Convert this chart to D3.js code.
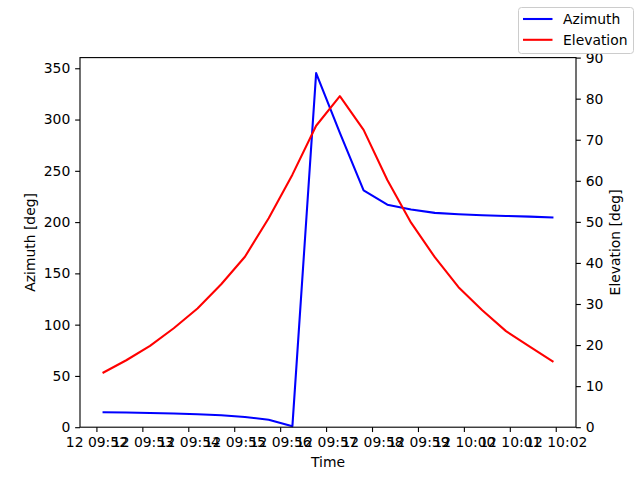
<!DOCTYPE html>
<html>
<head>
<meta charset="utf-8">
<script src="https://cdn.jsdelivr.net/npm/d3@7"></script>
<style>
  body { margin: 0; background: #fff; }
  svg { display: block; }
  text { font-family: "DejaVu Sans", sans-serif; }
</style>
</head>
<body>
<div id="chart"></div>
<script>
// Pass samples (day 12, every ~31 s)
const times = [
  "09:52:08", "09:52:39", "09:53:10", "09:53:41", "09:54:12",
  "09:54:43", "09:55:14", "09:55:45", "09:56:16", "09:56:47",
  "09:57:18", "09:57:49", "09:58:20", "09:58:51", "09:59:22",
  "09:59:53", "10:00:24", "10:00:55", "10:01:26", "10:01:57"
];
const azimuth = [
  14.6, 14.3, 13.9, 13.4, 12.7, 11.7, 10.0, 7.2, 1.0, 345.3,
  287.0, 231.0, 217.0, 212.2, 209.0, 207.6, 206.6, 206.0, 205.3, 204.4
];
const elevation = [
  13.2, 16.3, 19.8, 24.1, 28.9, 34.8, 41.5, 50.9, 61.5, 73.4,
  80.6, 72.4, 60.2, 49.8, 41.4, 34.1, 28.5, 23.4, 19.6, 15.9
];
const azTicks = [0, 50, 100, 150, 200, 250, 300, 350];
const elTicks = [0, 10, 20, 30, 40, 50, 60, 70, 80, 90];

const parseTime = d3.timeParse("%Y-%m-%d %H:%M:%S");
const data = times.map((t, i) => ({
  t: parseTime("2023-01-12 " + t),
  az: azimuth[i],
  el: elevation[i]
}));

const width = 640, height = 480;
const mLeft = 80, mRight = 576, mTop = 57.6, mBottom = 427.2;

const svg = d3.select("#chart").append("svg")
  .attr("width", width)
  .attr("height", height);

// x domain with matplotlib's 5% margins
const ext = d3.extent(data, d => d.t);
const pad = (ext[1] - ext[0]) * 0.05;
const x = d3.scaleTime()
  .domain([new Date(+ext[0] - pad), new Date(+ext[1] + pad)])
  .range([mLeft, mRight]);

const yAz = d3.scaleLinear().domain([0, 360.4]).range([mBottom, mTop]);
const yEl = d3.scaleLinear().domain([0, 90]).range([mBottom, mTop]);

const fontSize = 13.9;
const tickLen = 4.86;

// Lines
const azLine = d3.line().x(d => x(d.t)).y(d => yAz(d.az));
const elLine = d3.line().x(d => x(d.t)).y(d => yEl(d.el));

svg.append("path").datum(data)
  .attr("d", azLine)
  .attr("fill", "none")
  .attr("stroke", "#0000ff")
  .attr("stroke-width", 2.08)
  .attr("stroke-linejoin", "round");

svg.append("path").datum(data)
  .attr("d", elLine)
  .attr("fill", "none")
  .attr("stroke", "#ff0000")
  .attr("stroke-width", 2.08)
  .attr("stroke-linejoin", "round");

// Axes
const fmt = d3.timeFormat("%d %H:%M");
const xAxis = d3.axisBottom(x)
  .ticks(d3.timeMinute.every(1))
  .tickFormat(fmt)
  .tickSizeInner(tickLen).tickSizeOuter(0).tickPadding(4.86);

const gx = svg.append("g").attr("transform", `translate(0,${mBottom})`).call(xAxis);
const gl = svg.append("g").attr("transform", `translate(${mLeft},0)`)
  .call(d3.axisLeft(yAz).tickValues(azTicks).tickSizeInner(tickLen).tickSizeOuter(0).tickPadding(4.86));
const gr = svg.append("g").attr("transform", `translate(${mRight},0)`)
  .call(d3.axisRight(yEl).tickValues(elTicks).tickSizeInner(tickLen).tickSizeOuter(0).tickPadding(4.86));

[gx, gl, gr].forEach(g => {
  g.selectAll(".domain").remove();
  g.selectAll(".tick line").attr("stroke", "#000").attr("stroke-width", 1.11);
  g.selectAll(".tick text").attr("fill", "#000").style("font-size", fontSize + "px")
    .style("font-family", "'DejaVu Sans', sans-serif");
});
gx.selectAll(".tick text").attr("dy", "0.76em");

// Frame
svg.append("rect")
  .attr("x", mLeft).attr("y", mTop)
  .attr("width", mRight - mLeft).attr("height", mBottom - mTop)
  .attr("fill", "none")
  .attr("stroke", "#000")
  .attr("stroke-width", 1.11);

// Axis labels
svg.append("text")
  .attr("x", (mLeft + mRight) / 2).attr("y", 467)
  .attr("text-anchor", "middle")
  .style("font-size", fontSize + "px")
  .text("Time");

svg.append("text")
  .attr("transform", `translate(35,${(mTop + mBottom) / 2}) rotate(-90)`)
  .attr("text-anchor", "middle")
  .style("font-size", fontSize + "px")
  .text("Azimuth [deg]");

svg.append("text")
  .attr("transform", `translate(620,${(mTop + mBottom) / 2}) rotate(-90)`)
  .attr("text-anchor", "middle")
  .style("font-size", fontSize + "px")
  .text("Elevation [deg]");

// Legend (figure, upper right)
const legend = svg.append("g");
legend.append("rect")
  .attr("x", 518.5).attr("y", 7.5)
  .attr("width", 115).attr("height", 46)
  .attr("rx", 3).attr("ry", 3)
  .attr("fill", "#fff").attr("fill-opacity", 0.8)
  .attr("stroke", "#cccccc").attr("stroke-width", 1);

const entries = [
  { label: "Azimuth", color: "#0000ff" },
  { label: "Elevation", color: "#ff0000" }
];
entries.forEach((e, i) => {
  const yy = 19 + i * 20.8;
  legend.append("line")
    .attr("x1", 523).attr("x2", 552.5)
    .attr("y1", yy).attr("y2", yy)
    .attr("stroke", e.color).attr("stroke-width", 2.08);
  legend.append("text")
    .attr("x", 563).attr("y", yy)
    .attr("dy", "0.36em")
    .style("font-size", fontSize + "px")
    .text(e.label);
});
</script>
</body>
</html>
